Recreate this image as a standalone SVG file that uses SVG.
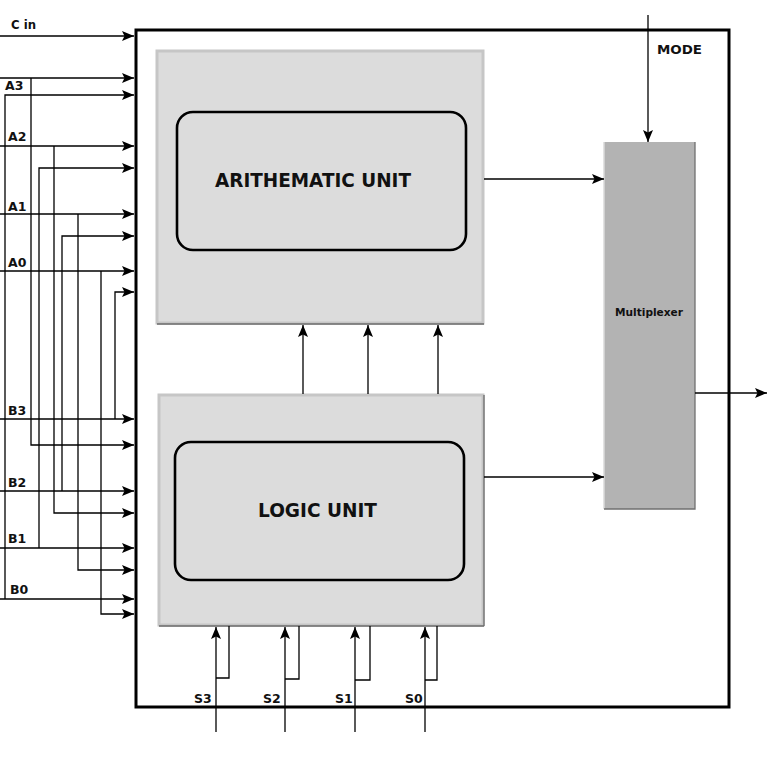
<svg xmlns="http://www.w3.org/2000/svg" width="769" height="757" viewBox="0 0 769 757">
<style>
.w{fill:none;stroke:#000;stroke-width:1.3}
.a{marker-end:url(#ah)}
.lbl{font-family:"DejaVu Sans",Verdana,sans-serif;font-weight:bold;font-size:12.5px;fill:#111}
.big{font-family:"DejaVu Sans",Verdana,sans-serif;font-weight:bold;font-size:19px;fill:#111}
.outer{fill:#dcdcdc;stroke:#c6c6c6;stroke-width:3}
.inner{fill:none;stroke:#000;stroke-width:2.6}
</style>
<defs>
<marker id="ah" viewBox="0 0 12 10" refX="12" refY="5" markerWidth="12" markerHeight="10" markerUnits="userSpaceOnUse" orient="auto">
<path d="M0,0 L12,5 L0,10 L2.5,5 z" fill="#000"/>
</marker>
</defs>
<rect width="769" height="757" fill="#fff"/>
<g id="alu-box">
<rect x="136" y="30" width="593" height="677" fill="none" stroke="#000" stroke-width="3"/>
</g>
<g id="arithmetic-unit">
<rect class="outer" x="157" y="51" width="326" height="272"/>
<line x1="157" y1="324" x2="484" y2="324" stroke="#6a6a6a" stroke-width="1.3"/>
<rect class="inner" x="177" y="112" width="289" height="138" rx="16"/>
<text class="big" x="215" y="187" textLength="196" lengthAdjust="spacingAndGlyphs">ARITHEMATIC UNIT</text>
</g>
<g id="logic-unit">
<rect class="outer" x="159" y="395" width="324" height="230"/>
<line x1="159" y1="626" x2="484" y2="626" stroke="#6a6a6a" stroke-width="1.3"/>
<line x1="484" y1="395" x2="484" y2="626" stroke="#6a6a6a" stroke-width="1.3"/>
<rect class="inner" x="175" y="442" width="289" height="138" rx="16"/>
<text class="big" x="258" y="517" textLength="119" lengthAdjust="spacingAndGlyphs">LOGIC UNIT</text>
</g>
<g id="multiplexer">
<rect x="604" y="142" width="91" height="367" fill="#b3b3b3"/>
<line x1="604" y1="142" x2="604" y2="509" stroke="#dadada" stroke-width="1.5"/>
<polyline points="695,142 695,509 604,509" fill="none" stroke="#707070" stroke-width="1.3"/>
<text class="lbl" x="615" y="316" style="font-size:11px" textLength="68" lengthAdjust="spacingAndGlyphs">Multiplexer</text>
</g>
<g id="labels">
<text class="lbl" x="11" y="29" textLength="25" lengthAdjust="spacingAndGlyphs">C in</text>
<text class="lbl" x="5" y="90">A3</text>
<text class="lbl" x="8" y="141">A2</text>
<text class="lbl" x="8" y="211">A1</text>
<text class="lbl" x="8" y="267">A0</text>
<text class="lbl" x="8" y="415">B3</text>
<text class="lbl" x="8" y="487">B2</text>
<text class="lbl" x="8" y="543">B1</text>
<text class="lbl" x="10" y="594">B0</text>
<text class="lbl" x="194" y="703">S3</text>
<text class="lbl" x="263" y="703">S2</text>
<text class="lbl" x="335" y="703">S1</text>
<text class="lbl" x="405" y="703">S0</text>
<text class="lbl" x="657" y="54" textLength="45" lengthAdjust="spacingAndGlyphs">MODE</text>
</g>
<g id="connectors">
<!-- Cin -->
<line class="w a" x1="0" y1="36" x2="134" y2="36"/>
<!-- A inputs -->
<line class="w a" x1="0" y1="78" x2="134" y2="78"/>
<polyline class="w a" points="5,599 5,95 134,95"/>
<line class="w a" x1="0" y1="146" x2="134" y2="146"/>
<polyline class="w a" points="39,548 39,168 134,168"/>
<line class="w a" x1="0" y1="214" x2="134" y2="214"/>
<polyline class="w a" points="62,491 62,236 134,236"/>
<line class="w a" x1="0" y1="271" x2="134" y2="271"/>
<polyline class="w a" points="115,419 115,292 134,292"/>
<!-- B inputs -->
<line class="w a" x1="0" y1="419" x2="134" y2="419"/>
<polyline class="w a" points="31,78 31,445 134,445"/>
<line class="w a" x1="0" y1="491" x2="134" y2="491"/>
<polyline class="w a" points="54,146 54,513 134,513"/>
<line class="w a" x1="0" y1="548" x2="134" y2="548"/>
<polyline class="w a" points="78,214 78,570 134,570"/>
<line class="w a" x1="0" y1="599" x2="134" y2="599"/>
<polyline class="w a" points="101,271 101,614 134,614"/>
<!-- logic to arithmetic -->
<line class="w a" x1="303" y1="394" x2="303" y2="325"/>
<line class="w a" x1="368" y1="394" x2="368" y2="325"/>
<line class="w a" x1="438" y1="394" x2="438" y2="325"/>
<!-- select lines -->
<line class="w a" x1="216" y1="732" x2="216" y2="627"/>
<polyline class="w" points="216,678 229,678 229,626"/>
<line class="w a" x1="285" y1="732" x2="285" y2="627"/>
<polyline class="w" points="285,679 299,679 299,626"/>
<line class="w a" x1="355" y1="732" x2="355" y2="627"/>
<polyline class="w" points="355,680 370,680 370,626"/>
<line class="w a" x1="425" y1="732" x2="425" y2="627"/>
<polyline class="w" points="425,680 437,680 437,626"/>
<!-- to multiplexer -->
<line class="w a" x1="484" y1="179" x2="604" y2="179"/>
<line class="w a" x1="484" y1="477" x2="604" y2="477"/>
<line class="w a" x1="648" y1="15" x2="648" y2="142"/>
<line class="w a" x1="695" y1="393" x2="767" y2="393"/>
</g>
</svg>
